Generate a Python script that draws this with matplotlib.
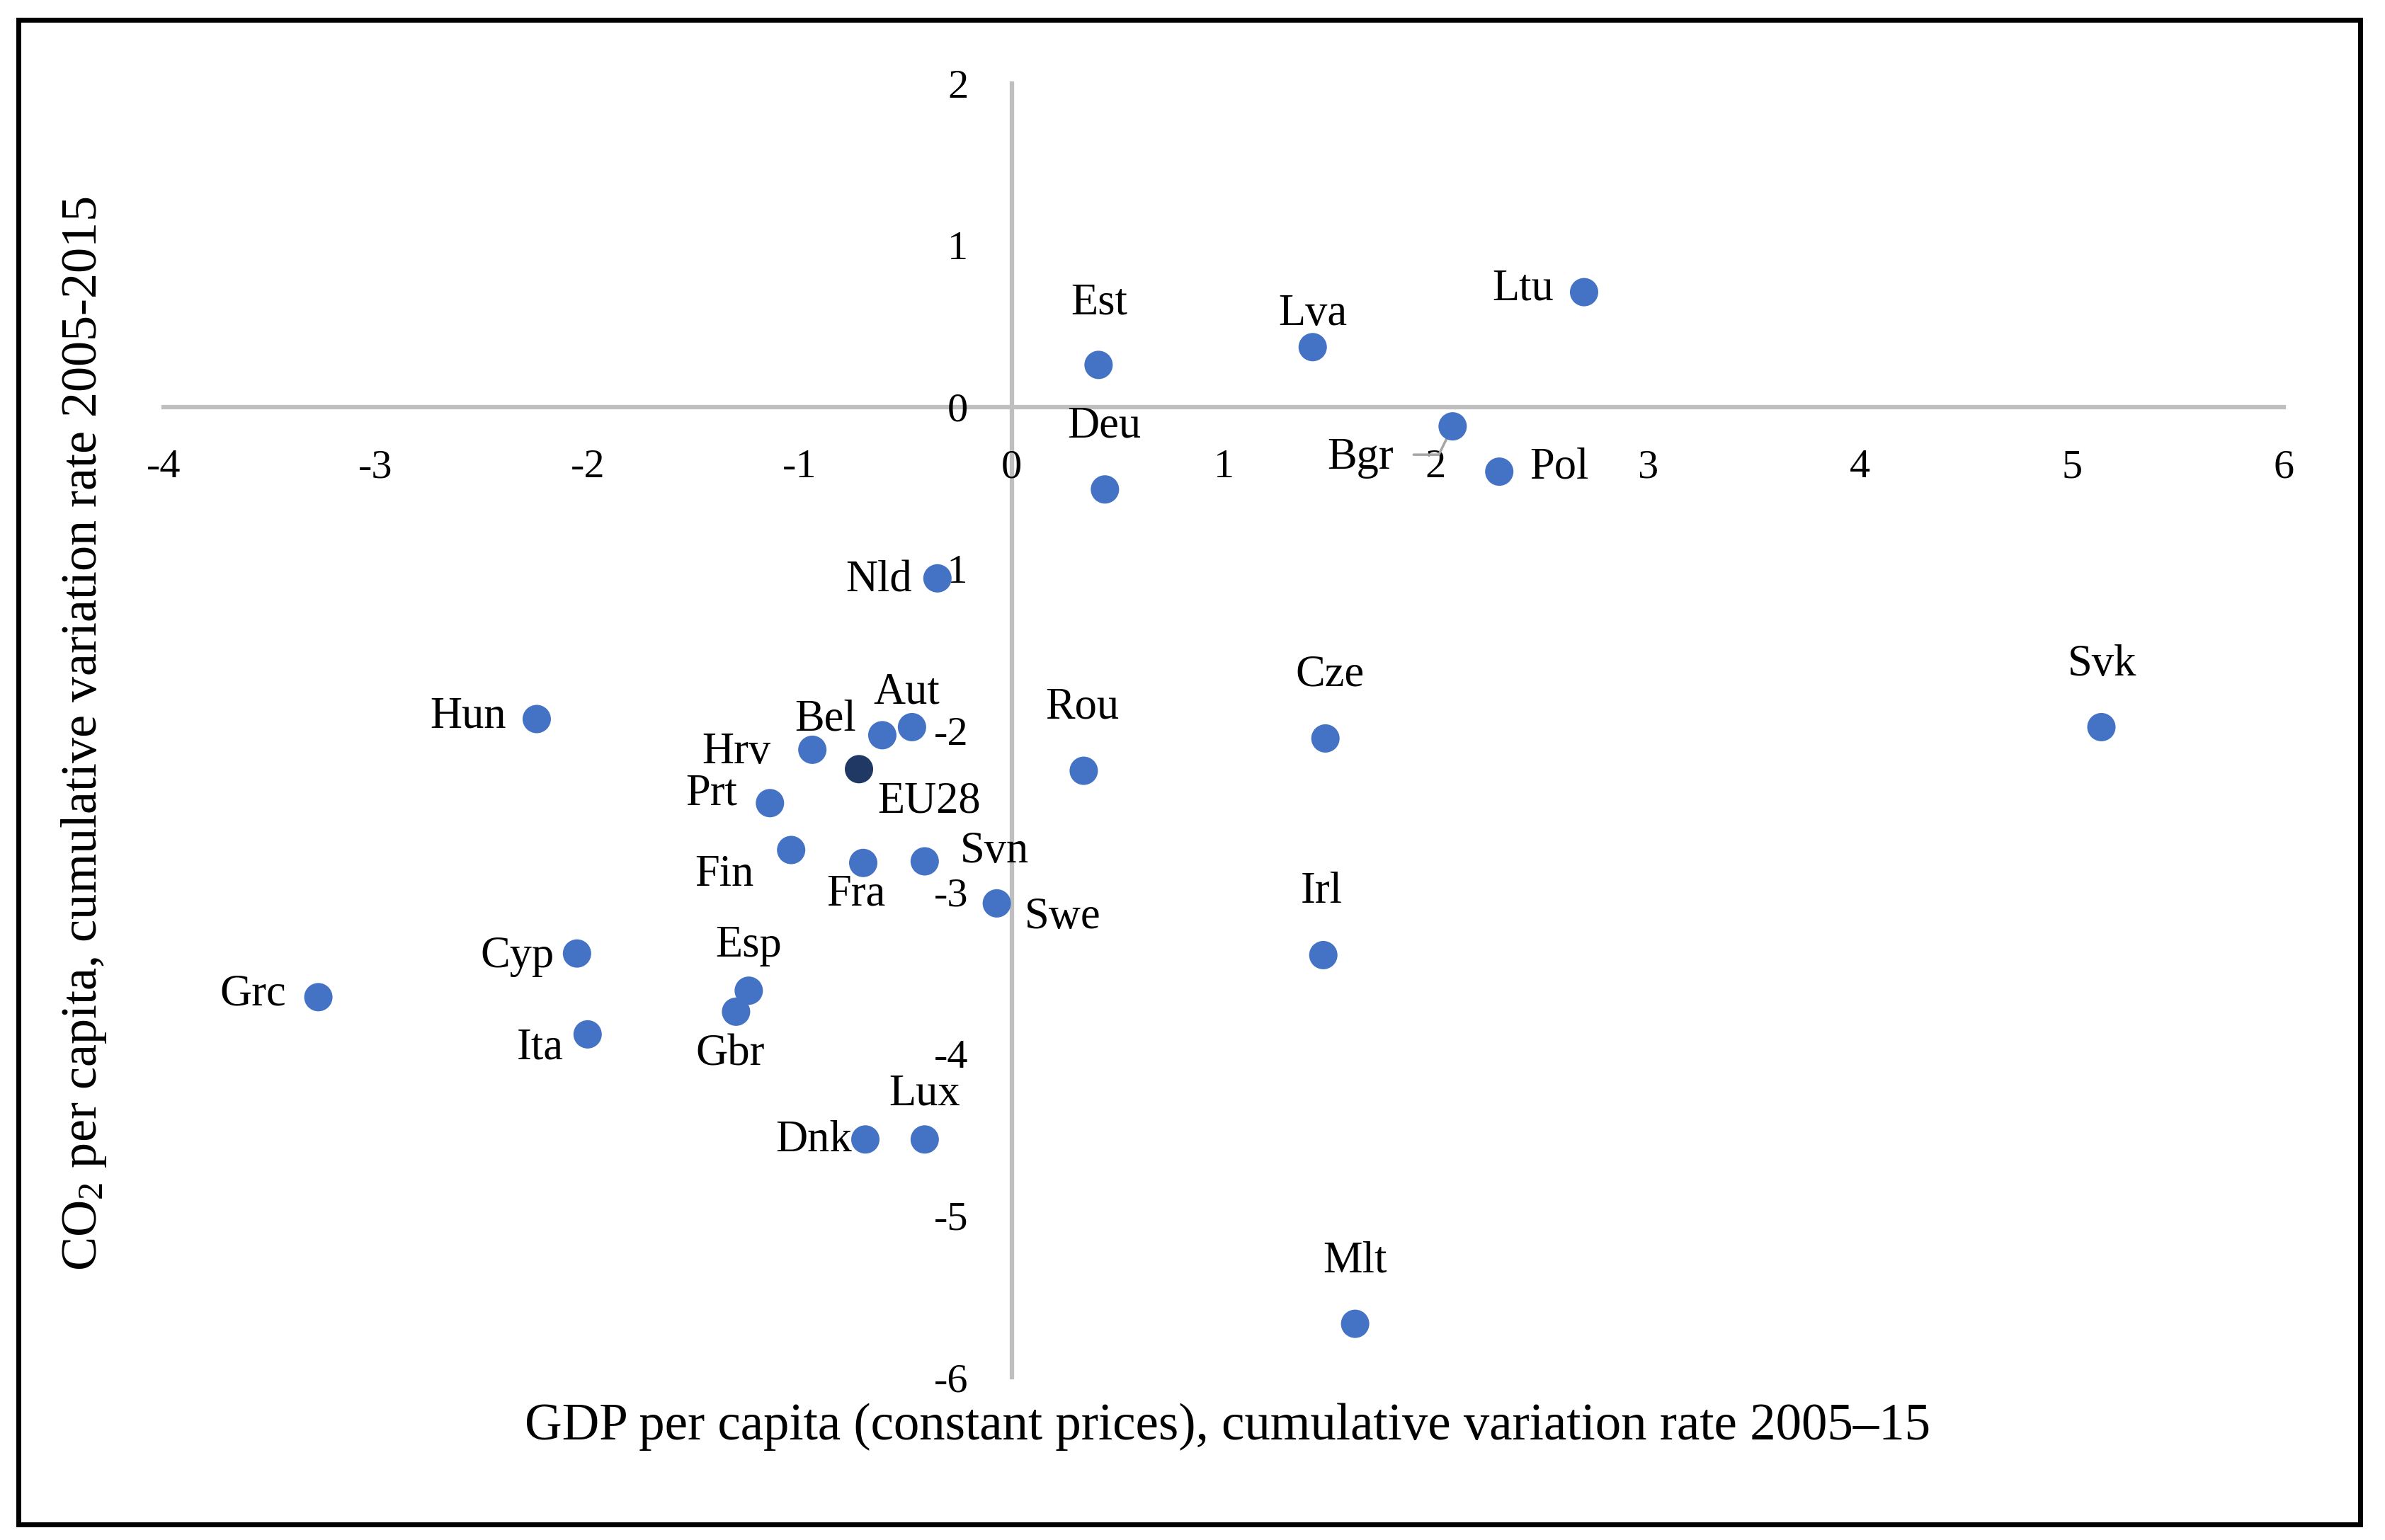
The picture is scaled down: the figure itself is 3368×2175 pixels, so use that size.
import matplotlib
matplotlib.use("Agg")
import matplotlib.pyplot as plt
from matplotlib.patches import Rectangle

# ---------------- data ----------------
countries = ['Ltu', 'Est', 'Lva', 'Bgr', 'Pol', 'Deu', 'Nld', 'Hun', 'Aut', 'Bel',
             'Hrv', 'EU28', 'Rou', 'Cze', 'Svk', 'Prt', 'Fin', 'Fra', 'Svn', 'Swe',
             'Irl', 'Cyp', 'Grc', 'Esp', 'Gbr', 'Ita', 'Dnk', 'Lux', 'Mlt']
gdp_change = [2.70, 0.41, 1.42, 2.08, 2.30, 0.44, -0.35, -2.24, -0.47, -0.61,
              -0.94, -0.72, 0.34, 1.48, 5.14, -1.14, -1.04, -0.70, -0.41, -0.07,
              1.47, -2.05, -3.27, -1.24, -1.30, -2.00, -0.69, -0.41, 1.62]
co2_change = [0.71, 0.26, 0.37, -0.12, -0.40, -0.51, -1.06, -1.93, -1.98, -2.03,
              -2.12, -2.24, -2.25, -2.05, -1.98, -2.45, -2.74, -2.82, -2.81, -3.07,
              -3.39, -3.38, -3.65, -3.61, -3.74, -3.88, -4.53, -4.53, -5.67]
highlight = 'EU28'
x_ticks = [-4, -3, -2, -1, 0, 1, 2, 3, 4, 5, 6]
y_ticks = [2, 1, 0, -1, -2, -3, -4, -5, -6]
x_label = 'GDP per capita (constant prices), cumulative variation rate 2005\u201315'
y_label = r'CO$_2$ per capita, cumulative variation rate 2005-2015'

# label placement: (horizontal alignment, dx px, dy px (image, down +)) relative to dot
label_pos = {
    'Ltu': ('right', -43, 11), 'Est': ('center', 1, -72), 'Lva': ('center', 0, -31),
    'Bgr': ('right', -83, 60), 'Pol': ('left', 43, 9), 'Deu': ('center', -1, -74),
    'Nld': ('right', -36, 19), 'Hun': ('right', -43, 12), 'Aut': ('center', -8, -33),
    'Bel': ('right', -37, -7), 'Hrv': ('right', -59, 19), 'EU28': ('left', 26, 61),
    'Rou': ('center', -2, -74), 'Cze': ('center', 6, -74), 'Svk': ('center', 1, -73),
    'Prt': ('right', -46, 2), 'Fin': ('right', -53, 51), 'Fra': ('center', -10, 60),
    'Svn': ('left', 50, 2), 'Swe': ('left', 39, 35), 'Irl': ('center', -2, -74),
    'Cyp': ('right', -32, 19), 'Grc': ('right', -45, 11), 'Esp': ('center', 0, -48),
    'Gbr': ('center', -8, 76), 'Ita': ('right', -34, 35), 'Dnk': ('right', -19, 17),
    'Lux': ('center', 0, -49), 'Mlt': ('center', 0, -73),
}

# ---------------- style ----------------
plt.rcParams['font.family'] = ['Liberation Serif', 'DejaVu Serif']
plt.rcParams['mathtext.fontset'] = 'custom'
plt.rcParams['mathtext.rm'] = 'Liberation Serif'
plt.rcParams['mathtext.it'] = 'Liberation Serif:italic'
plt.rcParams['axes.unicode_minus'] = False

W, H, DPI = 3368, 2175, 100
fig = plt.figure(figsize=(W / DPI, H / DPI), dpi=DPI)
fig.patch.set_facecolor('white')

left, right, top, bottom = 231, 3225, 118, 1945
ax = fig.add_axes([left / W, 1 - bottom / H, (right - left) / W, (bottom - top) / H])
ax.set_xlim(-4, 6)
ax.set_ylim(-6, 2)
ax.set_facecolor('none')

for s in ['top', 'right']:
    ax.spines[s].set_visible(False)
for s in ['left', 'bottom']:
    ax.spines[s].set_position(('data', 0))
    ax.spines[s].set_color('#BFBFBF')
    ax.spines[s].set_linewidth(4.5)
    ax.spines[s].set_zorder(1)

ax.set_xticks(x_ticks)
ax.set_xticklabels([str(v) for v in x_ticks])
ax.set_yticks(y_ticks)
ax.set_yticklabels([str(v) for v in y_ticks])
ax.tick_params(axis='x', length=0, pad=43, labelsize=42, colors='black')
ax.tick_params(axis='y', length=0, pad=44, labelsize=42, colors='black')

colors = ['#203864' if c == highlight else '#4472C4' for c in countries]
ax.scatter(gdp_change, co2_change, s=830, c=colors, linewidths=0, zorder=3)

for c, gx, gy in zip(countries, gdp_change, co2_change):
    ha, dx, dy = label_pos[c]
    ax.annotate(c, xy=(gx, gy), xytext=(dx, -dy), textcoords='offset pixels',
                ha=ha, va='baseline', fontsize=45, color='black', zorder=4)

# leader line for Bgr
i = countries.index('Bgr')
ax.annotate('', xy=(gdp_change[i], co2_change[i]), xytext=(-55, -40),
            textcoords='offset pixels',
            arrowprops=dict(arrowstyle='-', color='#A6A6A6', lw=2.5,
                            shrinkA=0, shrinkB=0,
                            connectionstyle='angle,angleA=0,angleB=64,rad=0'),
            zorder=2)

fig.text(1734 / W, 1 - 2033 / H, x_label, ha='center', va='baseline', fontsize=52.5)
fig.text(119 / W, 1 - 1036 / H, y_label, ha='center', va='center', rotation=90, fontsize=52)

# outer frame
fig.patches.append(Rectangle((26 / W, 1 - 2153 / H), (3333 - 26) / W, (2153 - 28) / H,
                             transform=fig.transFigure, fill=False, edgecolor='black',
                             linewidth=5, zorder=10))

fig.savefig('out.png', dpi=DPI, facecolor='white')
